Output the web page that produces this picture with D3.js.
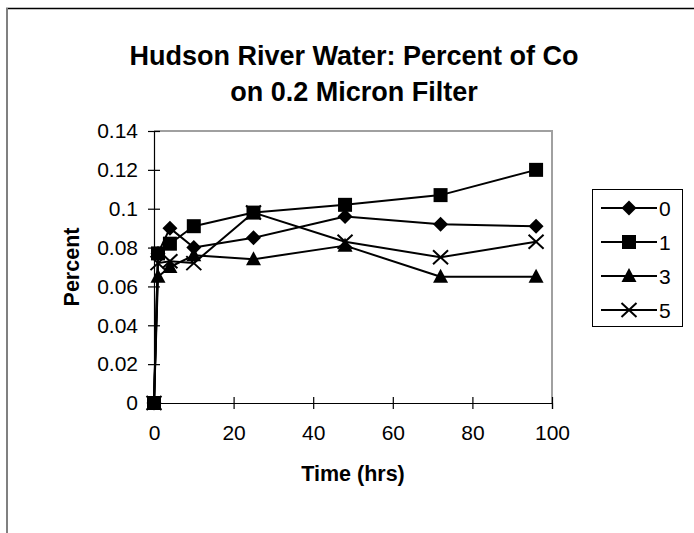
<!DOCTYPE html>
<html>
<head>
<meta charset="utf-8">
<script src="https://cdn.jsdelivr.net/npm/d3@7"></script>
<style>
  html, body { margin: 0; padding: 0; background: #fff; }
  svg { display: block; font-family: "Liberation Sans", Arial, sans-serif; }
</style>
</head>
<body>
<svg id="chart" width="694" height="533"></svg>
<script>
// Sampling times (hours)
const times = [0, 1, 4, 10, 25, 48, 72, 96];

// Percent of Co retained on the 0.2 micron filter, one array per series
const series0 = [0, 0.077, 0.090, 0.080, 0.085, 0.096, 0.092, 0.091];
const series1 = [0, 0.077, 0.082, 0.091, 0.098, 0.102, 0.107, 0.120];
const series3 = [0, 0.065, 0.070, 0.076, 0.074, 0.081, 0.065, 0.065];
const series5 = [0, 0.072, 0.073, 0.072, 0.098, 0.083, 0.075, 0.083];

const seriesNames = ["0", "1", "3", "5"];
const seriesMarkers = ["diamond", "square", "triangle", "x"];

const xTicks = [0, 20, 40, 60, 80, 100];
const yTicks = [0, 0.02, 0.04, 0.06, 0.08, 0.1, 0.12, 0.14];
const yTickLabels = ["0", "0.02", "0.04", "0.06", "0.08", "0.1", "0.12", "0.14"];

const titleLines = ["Hudson River Water: Percent of Co", "on 0.2 Micron Filter"];
const xTitle = "Time (hrs)";
const yTitle = "Percent";

const allSeries = [series0, series1, series3, series5];

const svg = d3.select("#chart");

// outer chart frame (runs off the right and bottom edges)
svg.append("line").attr("x1", 6).attr("x2", 694).attr("y1", 8.5).attr("y2", 8.5)
  .attr("stroke", "#000").attr("stroke-width", 1.5);
svg.append("line").attr("x1", 7).attr("x2", 7).attr("y1", 8).attr("y2", 533)
  .attr("stroke", "#808080").attr("stroke-width", 2);

const plot = { left: 154, right: 552, top: 131, bottom: 403 };

const x = d3.scaleLinear().domain([0, 100]).range([plot.left, plot.right]);
const y = d3.scaleLinear().domain([0, 0.14]).range([plot.bottom, plot.top]);

// plot-area frame: grey top and right edges
svg.append("path")
  .attr("d", `M${plot.left},${plot.top}H${plot.right}V${plot.bottom}`)
  .attr("fill", "none").attr("stroke", "#a0a0a0").attr("stroke-width", 2);

// title
const title = svg.append("text")
  .attr("text-anchor", "middle")
  .attr("font-weight", "bold")
  .attr("font-size", 27)
  .attr("fill", "#000");
titleLines.forEach((t, i) => {
  title.append("tspan").attr("x", 354).attr("y", 65 + i * 36).text(t);
});

// y axis
const yAxis = svg.append("g")
  .attr("transform", `translate(${plot.left},0)`)
  .call(d3.axisLeft(y).tickValues(yTicks).tickSize(6).tickPadding(10)
    .tickFormat((d, i) => yTickLabels[i]));
yAxis.select(".domain").attr("stroke", "#000").attr("stroke-width", 1.2);
yAxis.selectAll(".tick line").attr("x1", 6).attr("stroke", "#000").attr("stroke-width", 1.2);
yAxis.selectAll(".tick text").attr("font-size", 21).attr("font-family", "Liberation Sans, Arial, sans-serif")
  .attr("fill", "#000");

// x axis
const xAxis = svg.append("g")
  .attr("transform", `translate(0,${plot.bottom})`)
  .call(d3.axisBottom(x).tickValues(xTicks).tickSize(6).tickPadding(16)
    .tickFormat(d3.format("d")));
xAxis.select(".domain").attr("stroke", "#000").attr("stroke-width", 1.2);
xAxis.selectAll(".tick line").attr("y1", -6).attr("stroke", "#000").attr("stroke-width", 1.2);
xAxis.selectAll(".tick text").attr("font-size", 21).attr("font-family", "Liberation Sans, Arial, sans-serif")
  .attr("fill", "#000");

// axis titles
svg.append("text")
  .attr("x", (plot.left + plot.right) / 2).attr("y", 481)
  .attr("text-anchor", "middle").attr("font-weight", "bold").attr("font-size", 21.5)
  .text(xTitle);
svg.append("text")
  .attr("transform", `translate(79,${(plot.top + plot.bottom) / 2}) rotate(-90)`)
  .attr("text-anchor", "middle").attr("font-weight", "bold").attr("font-size", 21.5)
  .text(yTitle);

// marker shapes
function markerPath(kind) {
  switch (kind) {
    case "diamond": return "M0,-7.5L7.5,0L0,7.5L-7.5,0Z";
    case "square": return "M-7,-7H7V7H-7Z";
    case "triangle": return "M0,-8L7.5,6H-7.5Z";
    case "x": return "M-7.5,-7L7.5,7M-7.5,7L7.5,-7";
  }
}
function drawMarker(g, kind, cx, cy) {
  const p = g.append("path")
    .attr("transform", `translate(${cx},${cy})`)
    .attr("d", markerPath(kind));
  if (kind === "x") p.attr("fill", "none").attr("stroke", "#000").attr("stroke-width", 2);
  else p.attr("fill", "#000");
}

const line = d3.line().x(d => x(d[0])).y(d => y(d[1]));

allSeries.forEach((vals, si) => {
  const pts = times.map((t, i) => [t, vals[i]]);
  const g = svg.append("g");
  g.append("path").attr("d", line(pts))
    .attr("fill", "none").attr("stroke", "#000").attr("stroke-width", 2)
    .attr("stroke-linejoin", "round");
  pts.forEach(p => drawMarker(g, seriesMarkers[si], x(p[0]), y(p[1])));
});

// legend
const legend = svg.append("g");
legend.append("rect").attr("x", 592.5).attr("y", 189.5).attr("width", 90).attr("height", 137)
  .attr("fill", "#fff").attr("stroke", "#000").attr("stroke-width", 1);
seriesNames.forEach((name, i) => {
  const cy = 208 + i * 34;
  legend.append("line").attr("x1", 601).attr("x2", 657).attr("y1", cy).attr("y2", cy)
    .attr("stroke", "#000").attr("stroke-width", 2);
  drawMarker(legend, seriesMarkers[i], 629, cy);
  legend.append("text").attr("x", 659).attr("y", cy + 7.5)
    .attr("font-size", 21).attr("fill", "#000").text(name);
});
</script>
</body>
</html>
